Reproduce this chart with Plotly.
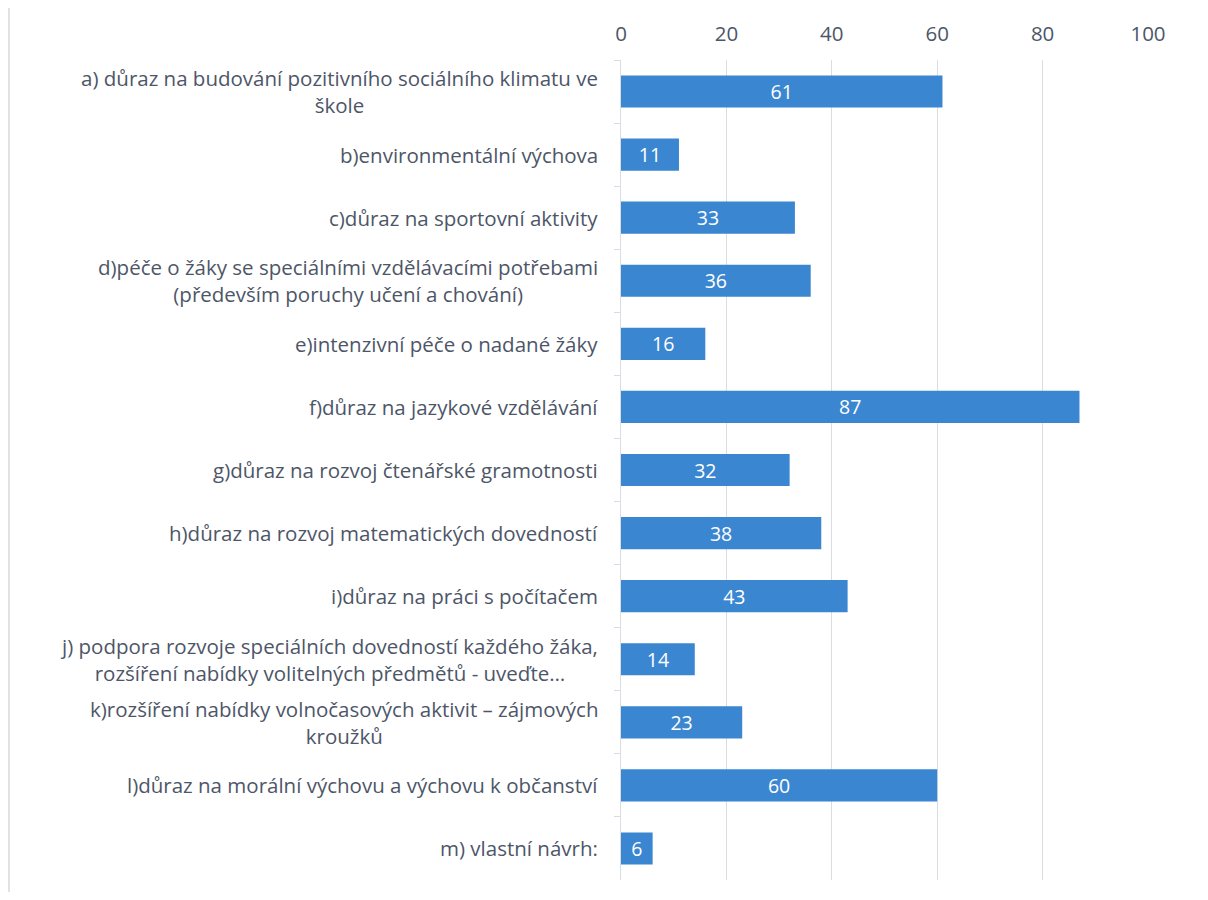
import plotly.graph_objects as go

categories = [
    "a) důraz na budování pozitivního sociálního klimatu ve<br>škole",
    "b)environmentální výchova",
    "c)důraz na sportovní aktivity",
    "d)péče o žáky se speciálními vzdělávacími potřebami<br>(především poruchy učení a chování)",
    "e)intenzivní péče o nadané žáky",
    "f)důraz na jazykové vzdělávání",
    "g)důraz na rozvoj čtenářské gramotnosti",
    "h)důraz na rozvoj matematických dovedností",
    "i)důraz na práci s počítačem",
    "j) podpora rozvoje speciálních dovedností každého žáka,<br>rozšíření nabídky volitelných předmětů - uveďte…",
    "k)rozšíření nabídky volnočasových aktivit – zájmových<br>kroužků",
    "l)důraz na morální výchovu a výchovu k občanství",
    "m) vlastní návrh:",
]
values = [61, 11, 33, 36, 16, 87, 32, 38, 43, 14, 23, 60, 6]
x_ticks = [0, 20, 40, 60, 80, 100]

FONT = "Open Sans"
TEXT_COLOR = "#4d5668"

fig = go.Figure()
fig.add_trace(go.Bar(
    x=values,
    y=categories,
    orientation="h",
    width=0.51,
    marker=dict(color="#3b86d1", line=dict(width=0)),
    text=[str(v) for v in values],
    textposition="inside",
    insidetextanchor="middle",
    textangle=0,
    constraintext="none",
    textfont=dict(family=FONT, size=19.5, color="white"),
    hoverinfo="x+y",
))

for c in categories:
    fig.add_annotation(
        x=0, xref="paper", y=c, yref="y",
        xanchor="right", yanchor="middle", xshift=-21,
        text=c, showarrow=False, align="center",
        font=dict(family=FONT, size=20.5, color=TEXT_COLOR),
    )

fig.add_shape(type="line", xref="paper", yref="paper",
              x0=-612 / 527, x1=-612 / 527, y0=-0.1, y1=1.2,
              line=dict(color="#d9d9d9", width=1.5))

fig.update_layout(
    width=1192, height=884,
    margin=dict(l=613, r=52, t=52, b=12),
    paper_bgcolor="white", plot_bgcolor="white",
    showlegend=False,
    bargap=0.49,
    xaxis=dict(
        side="top", range=[0, 100], tickvals=x_ticks,
        showgrid=True, gridcolor="#d9dde3", gridwidth=1.2,
        zeroline=False, showline=False,
        tickfont=dict(family=FONT, size=20.5, color=TEXT_COLOR),
        ticks="", ticklabelstandoff=14,
    ),
    yaxis=dict(
        autorange="reversed", type="category",
        showticklabels=False, showgrid=False, zeroline=False,
        showline=True, linecolor="#d9dde3", linewidth=1.2,
        ticks="outside", ticklen=6, tickcolor="#d9dde3", tickwidth=1.2,
        tickson="boundaries",
    ),
)

fig.write_html("out.html")
